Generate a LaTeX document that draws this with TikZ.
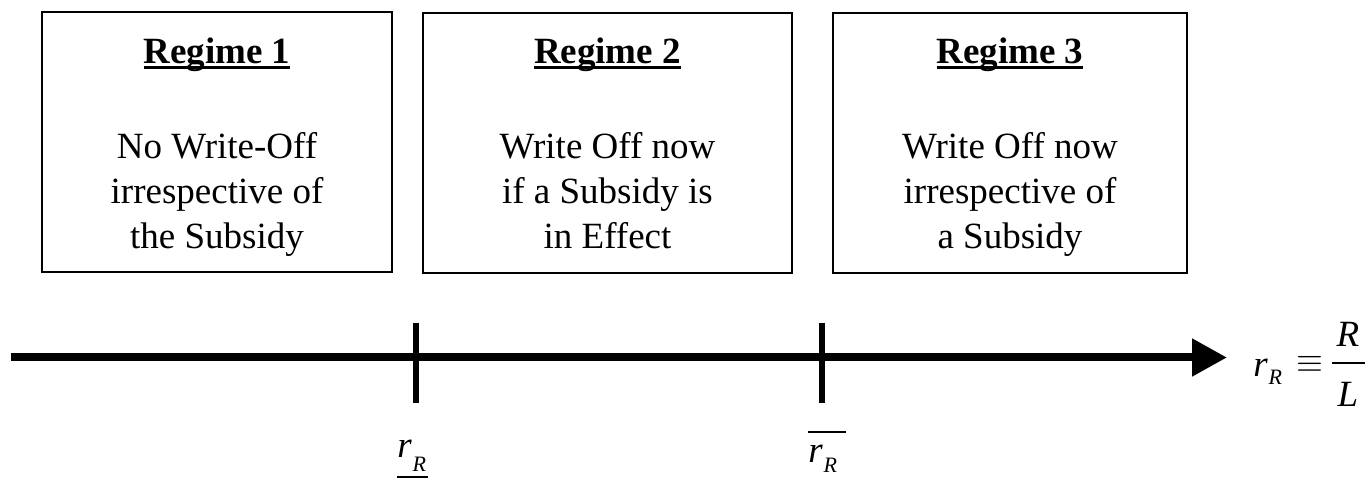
\documentclass[tikz,border=0pt]{standalone}
\usepackage{amsmath}
\usepackage{fontspec}
\setmainfont{Liberation Serif}
\usetikzlibrary{arrows.meta}
\newcommand\myrR[1]{\textit{r}\kern0.02em\raisebox{-#1}{\fontsize{11}{11}\selectfont\textit{R}}}
\newcommand\myul[1]{\setbox0\hbox{#1}\rlap{\rule[-0.14em]{\wd0}{0.08em}}\box0}
\begin{document}
\begin{tikzpicture}[x=0.5pt,y=-0.5pt,
  regbox/.style={draw, line width=1pt, inner sep=0pt, minimum height=130pt},
  titletext/.style={font=\fontsize{18.5}{22.5}\selectfont\bfseries, anchor=base, inner sep=0pt},
  bodytext/.style={font=\fontsize{18.5}{22.5}\selectfont, anchor=base, inner sep=0pt},
  labtext/.style={font=\fontsize{18.5}{22.5}\selectfont, anchor=base west, inner sep=0pt},
  tickline/.style={line width=3pt},
  axisline/.style={line width=4pt, -{Triangle[length=17.5pt,width=18pt]}}]
\useasboundingbox (0,0) rectangle (1370,480);

% boxes
\node[regbox, minimum width=175pt] (box1) at (217,142) {};
\node[regbox, minimum width=184.5pt] (box2) at (607.5,143.5) {};
\node[regbox, minimum width=177pt] (box3) at (1010,143) {};

% titles
\node[titletext] (h1) at (217,64) {\myul{Regime 1}};
\node[titletext] (h2) at (607.5,64) {\myul{Regime 2}};
\node[titletext] (h3) at (1010,64) {\myul{Regime 3}};

% bodies
\node[bodytext] (b1) at (217,159) {\begin{tabular}[t]{@{}c@{}}No Write-Off\\irrespective of\\the Subsidy\end{tabular}};
\node[bodytext] (b2) at (607.5,159) {\begin{tabular}[t]{@{}c@{}}Write Off now\\if a Subsidy is\\in Effect\end{tabular}};
\node[bodytext] (b3) at (1010,159) {\begin{tabular}[t]{@{}c@{}}Write Off now\\irrespective of\\a Subsidy\end{tabular}};

% axis
\coordinate (axL) at (11,357.5);
\coordinate (axR) at (1227,357.5);
\draw[axisline] (axL) -- (axR);

% ticks
\coordinate (k1t) at (416,323);
\coordinate (k1b) at (416,403);
\coordinate (k2t) at (822,323);
\coordinate (k2b) at (822,403);
\draw[tickline] (k1t) -- (k1b);
\draw[tickline] (k2t) -- (k2b);

% tick labels
\node[labtext] (lowr) at (397,458) {\rlap{\rule[-10pt]{15.5pt}{1pt}}\myrR{6.5pt}};
\node[labtext] (highr) at (808,462) {\rlap{\rule[14.5pt]{19pt}{1pt}}\myrR{5.5pt}};

% axis label r_R = R/L
\node[labtext] (rr) at (1253,377) {\myrR{4pt}};
\node[bodytext] (eqv) at (1310,372) {$\equiv$};
\node[bodytext] (numR) at (1348,347) {\textit{R}};
\node[bodytext] (denL) at (1348,407) {\textit{L}};
\coordinate (barL) at (1332,363);
\coordinate (barR) at (1365,363);
\draw[line width=1pt] (barL) -- (barR);
\end{tikzpicture}
\end{document}
